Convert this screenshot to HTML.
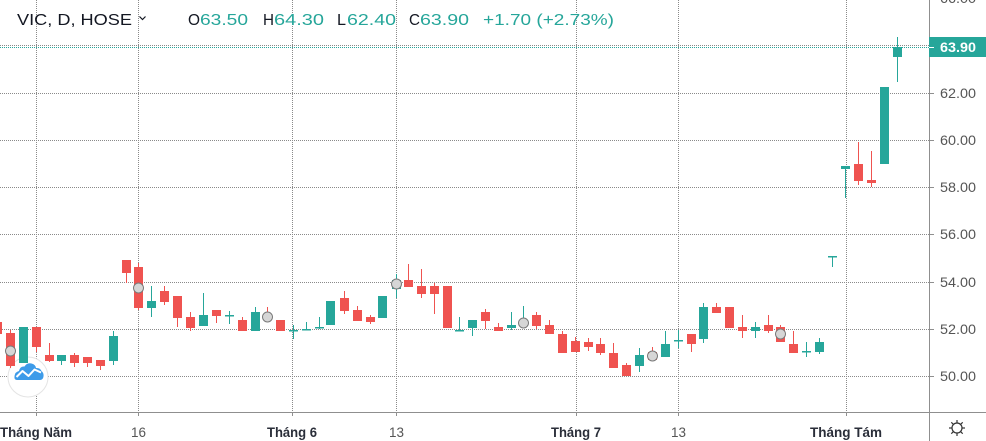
<!DOCTYPE html>
<html><head><meta charset="utf-8"><style>
html,body{margin:0;padding:0;background:#fff;width:986px;height:441px;overflow:hidden}
svg{display:block}
text{font-family:"Liberation Sans","DejaVu Sans",sans-serif}
</style></head><body>
<svg width="986" height="441" viewBox="0 0 986 441" xmlns="http://www.w3.org/2000/svg">
<rect width="986" height="441" fill="#fff"/>
<g stroke="#8a8a8a" stroke-width="1" stroke-dasharray="1 1" fill="none">
<line x1="0" y1="45.5" x2="929" y2="45.5"/>
<line x1="0" y1="93.5" x2="929" y2="93.5"/>
<line x1="0" y1="140.5" x2="929" y2="140.5"/>
<line x1="0" y1="187.5" x2="929" y2="187.5"/>
<line x1="0" y1="234.5" x2="929" y2="234.5"/>
<line x1="0" y1="282.5" x2="929" y2="282.5"/>
<line x1="0" y1="329.5" x2="929" y2="329.5"/>
<line x1="0" y1="376.5" x2="929" y2="376.5"/>
<line x1="36.5" y1="0" x2="36.5" y2="412"/>
<line x1="138.5" y1="0" x2="138.5" y2="412"/>
<line x1="292.5" y1="0" x2="292.5" y2="412"/>
<line x1="396.5" y1="0" x2="396.5" y2="412"/>
<line x1="576.5" y1="0" x2="576.5" y2="412"/>
<line x1="678.5" y1="0" x2="678.5" y2="412"/>
<line x1="846.5" y1="0" x2="846.5" y2="412"/>
</g>
<line x1="0" y1="47.5" x2="929" y2="47.5" stroke="#26a69a" stroke-width="1" stroke-dasharray="1 1"/>
<!-- logo circle -->
<circle cx="28" cy="377" r="20" fill="#fff" stroke="#e4e4e4" stroke-width="1"/>
<path d="M17 380 Q14 380 14.5 376 Q15 372 19 371 Q20 366 24.5 366.5 Q27 362.5 31.5 363.5 Q35.5 364.5 36 368 Q40 367.5 41.5 371 Q44 373 43.5 376.5 Q43 380 40 380 Z" fill="#3d9be9"/>
<polyline points="16.5,377 22.5,371 28.5,376 34.5,369.5 41,372.5" fill="none" stroke="#fff" stroke-width="2" stroke-linejoin="round"/>
<!-- candles -->
<g id="candles">
<rect x="-3" y="320" width="1" height="16" fill="#ef5350"/><rect x="-7" y="322" width="9" height="12" fill="#ef5350"/>
<rect x="10" y="330" width="1" height="38" fill="#ef5350"/><rect x="6" y="333" width="9" height="33" fill="#ef5350"/>
<rect x="23" y="327" width="1" height="36" fill="#26a69a"/><rect x="19" y="327" width="9" height="36" fill="#26a69a"/>
<rect x="36" y="327" width="1" height="25" fill="#ef5350"/><rect x="32" y="327" width="9" height="20" fill="#ef5350"/>
<rect x="49" y="343" width="1" height="19" fill="#ef5350"/><rect x="45" y="355" width="9" height="6" fill="#ef5350"/>
<rect x="61" y="355" width="1" height="10" fill="#26a69a"/><rect x="57" y="355" width="9" height="6" fill="#26a69a"/>
<rect x="74" y="353" width="1" height="14" fill="#ef5350"/><rect x="70" y="355" width="9" height="8" fill="#ef5350"/>
<rect x="87" y="357" width="1" height="10" fill="#ef5350"/><rect x="83" y="357" width="9" height="6" fill="#ef5350"/>
<rect x="100" y="360" width="1" height="10" fill="#ef5350"/><rect x="96" y="360" width="9" height="6" fill="#ef5350"/>
<rect x="113" y="331" width="1" height="34" fill="#26a69a"/><rect x="109" y="336" width="9" height="25" fill="#26a69a"/>
<rect x="126" y="260" width="1" height="23" fill="#ef5350"/><rect x="122" y="260" width="9" height="13" fill="#ef5350"/>
<rect x="138" y="263" width="1" height="47" fill="#ef5350"/><rect x="134" y="267" width="9" height="41" fill="#ef5350"/>
<rect x="151" y="286" width="1" height="31" fill="#26a69a"/><rect x="147" y="301" width="9" height="7" fill="#26a69a"/>
<rect x="164" y="286" width="1" height="19" fill="#ef5350"/><rect x="160" y="291" width="9" height="11" fill="#ef5350"/>
<rect x="177" y="296" width="1" height="31" fill="#ef5350"/><rect x="173" y="296" width="9" height="22" fill="#ef5350"/>
<rect x="190" y="312" width="1" height="19" fill="#ef5350"/><rect x="186" y="317" width="9" height="11" fill="#ef5350"/>
<rect x="203" y="293" width="1" height="33" fill="#26a69a"/><rect x="199" y="315" width="9" height="11" fill="#26a69a"/>
<rect x="216" y="310" width="1" height="13" fill="#ef5350"/><rect x="212" y="310" width="9" height="6" fill="#ef5350"/>
<rect x="229" y="311" width="1" height="13" fill="#26a69a"/><rect x="225" y="315" width="9" height="1.5" fill="#26a69a"/>
<rect x="242" y="317" width="1" height="14" fill="#ef5350"/><rect x="238" y="320" width="9" height="11" fill="#ef5350"/>
<rect x="255" y="307" width="1" height="24" fill="#26a69a"/><rect x="251" y="312" width="9" height="19" fill="#26a69a"/>
<rect x="267" y="307" width="1" height="13" fill="#ef5350"/><rect x="263" y="315" width="9" height="5" fill="#ef5350"/>
<rect x="280" y="320" width="1" height="11" fill="#ef5350"/><rect x="276" y="320" width="9" height="11" fill="#ef5350"/>
<rect x="293" y="325" width="1" height="14" fill="#26a69a"/><rect x="289" y="330" width="9" height="1.5" fill="#26a69a"/>
<rect x="306" y="322" width="1" height="8" fill="#26a69a"/><rect x="302" y="329" width="9" height="1.5" fill="#26a69a"/>
<rect x="319" y="317" width="1" height="12" fill="#26a69a"/><rect x="315" y="327" width="9" height="1.5" fill="#26a69a"/>
<rect x="330" y="301" width="1" height="24" fill="#26a69a"/><rect x="326" y="301" width="9" height="24" fill="#26a69a"/>
<rect x="344" y="291" width="1" height="23" fill="#ef5350"/><rect x="340" y="298" width="9" height="13" fill="#ef5350"/>
<rect x="357" y="306" width="1" height="15" fill="#ef5350"/><rect x="353" y="310" width="9" height="11" fill="#ef5350"/>
<rect x="370" y="315" width="1" height="9" fill="#ef5350"/><rect x="366" y="317" width="9" height="5" fill="#ef5350"/>
<rect x="382" y="296" width="1" height="22" fill="#26a69a"/><rect x="378" y="296" width="9" height="22" fill="#26a69a"/>
<rect x="396" y="274" width="1" height="24" fill="#26a69a"/><rect x="392" y="280" width="9" height="9" fill="#26a69a"/>
<rect x="408" y="264" width="1" height="23" fill="#ef5350"/><rect x="404" y="280" width="9" height="7" fill="#ef5350"/>
<rect x="421" y="269" width="1" height="29" fill="#ef5350"/><rect x="417" y="286" width="9" height="8" fill="#ef5350"/>
<rect x="434" y="283" width="1" height="31" fill="#ef5350"/><rect x="430" y="286" width="9" height="8" fill="#ef5350"/>
<rect x="447" y="286" width="1" height="42" fill="#ef5350"/><rect x="443" y="286" width="9" height="42" fill="#ef5350"/>
<rect x="459" y="317" width="1" height="14" fill="#26a69a"/><rect x="455" y="330" width="9" height="1.5" fill="#26a69a"/>
<rect x="472" y="320" width="1" height="16" fill="#26a69a"/><rect x="468" y="320" width="9" height="8" fill="#26a69a"/>
<rect x="485" y="309" width="1" height="20" fill="#ef5350"/><rect x="481" y="312" width="9" height="9" fill="#ef5350"/>
<rect x="498" y="323" width="1" height="8" fill="#ef5350"/><rect x="494" y="327" width="9" height="4" fill="#ef5350"/>
<rect x="511" y="312" width="1" height="18" fill="#26a69a"/><rect x="507" y="325" width="9" height="3" fill="#26a69a"/>
<rect x="523" y="306" width="1" height="19" fill="#26a69a"/><rect x="519" y="320" width="9" height="4" fill="#26a69a"/>
<rect x="536" y="312" width="1" height="17" fill="#ef5350"/><rect x="532" y="315" width="9" height="11" fill="#ef5350"/>
<rect x="549" y="320" width="1" height="14" fill="#ef5350"/><rect x="545" y="325" width="9" height="9" fill="#ef5350"/>
<rect x="562" y="331" width="1" height="22" fill="#ef5350"/><rect x="558" y="334" width="9" height="19" fill="#ef5350"/>
<rect x="575" y="337" width="1" height="15" fill="#ef5350"/><rect x="571" y="341" width="9" height="11" fill="#ef5350"/>
<rect x="588" y="338" width="1" height="13" fill="#ef5350"/><rect x="584" y="342" width="9" height="5" fill="#ef5350"/>
<rect x="600" y="338" width="1" height="17" fill="#ef5350"/><rect x="596" y="344" width="9" height="9" fill="#ef5350"/>
<rect x="613" y="343" width="1" height="25" fill="#ef5350"/><rect x="609" y="353" width="9" height="15" fill="#ef5350"/>
<rect x="626" y="363" width="1" height="13" fill="#ef5350"/><rect x="622" y="365" width="9" height="11" fill="#ef5350"/>
<rect x="639" y="348" width="1" height="24" fill="#26a69a"/><rect x="635" y="355" width="9" height="11" fill="#26a69a"/>
<rect x="652" y="347" width="1" height="13" fill="#ef5350"/><rect x="648" y="352" width="9" height="8" fill="#ef5350"/>
<rect x="665" y="331" width="1" height="26" fill="#26a69a"/><rect x="661" y="344" width="9" height="13" fill="#26a69a"/>
<rect x="678" y="330" width="1" height="18" fill="#26a69a"/><rect x="674" y="340" width="9" height="1.5" fill="#26a69a"/>
<rect x="691" y="334" width="1" height="18" fill="#ef5350"/><rect x="687" y="334" width="9" height="10" fill="#ef5350"/>
<rect x="703" y="303" width="1" height="40" fill="#26a69a"/><rect x="699" y="307" width="9" height="32" fill="#26a69a"/>
<rect x="716" y="303" width="1" height="10" fill="#ef5350"/><rect x="712" y="307" width="9" height="6" fill="#ef5350"/>
<rect x="729" y="307" width="1" height="21" fill="#ef5350"/><rect x="725" y="307" width="9" height="21" fill="#ef5350"/>
<rect x="742" y="315" width="1" height="23" fill="#ef5350"/><rect x="738" y="327" width="9" height="4" fill="#ef5350"/>
<rect x="755" y="322" width="1" height="16" fill="#26a69a"/><rect x="751" y="327" width="9" height="4" fill="#26a69a"/>
<rect x="768" y="315" width="1" height="18" fill="#ef5350"/><rect x="764" y="325" width="9" height="6" fill="#ef5350"/>
<rect x="780" y="325" width="1" height="17" fill="#ef5350"/><rect x="776" y="327" width="9" height="15" fill="#ef5350"/>
<rect x="793" y="331" width="1" height="22" fill="#ef5350"/><rect x="789" y="344" width="9" height="9" fill="#ef5350"/>
<rect x="806" y="342" width="1" height="15" fill="#26a69a"/><rect x="802" y="351" width="9" height="1.5" fill="#26a69a"/>
<rect x="819" y="338" width="1" height="16" fill="#26a69a"/><rect x="815" y="342" width="9" height="10" fill="#26a69a"/>
<rect x="832" y="256" width="1" height="11" fill="#26a69a"/><rect x="828" y="256" width="9" height="1.5" fill="#26a69a"/>
<rect x="845" y="166" width="1" height="32" fill="#26a69a"/><rect x="841" y="166" width="9" height="3" fill="#26a69a"/>
<rect x="858" y="142" width="1" height="43" fill="#ef5350"/><rect x="854" y="164" width="9" height="17" fill="#ef5350"/>
<rect x="871" y="151" width="1" height="36" fill="#ef5350"/><rect x="867" y="180" width="9" height="3" fill="#ef5350"/>
<rect x="884" y="87" width="1" height="77" fill="#26a69a"/><rect x="880" y="87" width="9" height="77" fill="#26a69a"/>
<rect x="897" y="37" width="1" height="45" fill="#26a69a"/><rect x="893" y="47" width="9" height="10" fill="#26a69a"/>
</g>
<g fill="#d6d6d6" stroke="#7a7a7a" stroke-width="1">
<circle cx="10.5" cy="351" r="5"/>
<circle cx="138.5" cy="288" r="5"/>
<circle cx="267.5" cy="317" r="5"/>
<circle cx="396.5" cy="284" r="5"/>
<circle cx="523.5" cy="323" r="5"/>
<circle cx="652.5" cy="356" r="5"/>
<circle cx="780.5" cy="334" r="5"/>
</g>
<!-- axes -->
<rect x="929" y="0" width="57" height="441" fill="#fff"/>
<line x1="929.5" y1="0" x2="929.5" y2="441" stroke="#8f8f8f" stroke-width="1"/>
<line x1="0" y1="412.5" x2="986" y2="412.5" stroke="#8f8f8f" stroke-width="1"/>
<g stroke="#8f8f8f" stroke-width="1">
<line x1="929" y1="93.5" x2="934" y2="93.5"/>
<line x1="929" y1="140.5" x2="934" y2="140.5"/>
<line x1="929" y1="187.5" x2="934" y2="187.5"/>
<line x1="929" y1="234.5" x2="934" y2="234.5"/>
<line x1="929" y1="282.5" x2="934" y2="282.5"/>
<line x1="929" y1="329.5" x2="934" y2="329.5"/>
<line x1="929" y1="376.5" x2="934" y2="376.5"/>
<line x1="36.5" y1="412" x2="36.5" y2="416"/>
<line x1="138.5" y1="412" x2="138.5" y2="416"/>
<line x1="292.5" y1="412" x2="292.5" y2="416"/>
<line x1="396.5" y1="412" x2="396.5" y2="416"/>
<line x1="576.5" y1="412" x2="576.5" y2="416"/>
<line x1="678.5" y1="412" x2="678.5" y2="416"/>
<line x1="846.5" y1="412" x2="846.5" y2="416"/>
</g>
<g font-size="14" fill="#555">
<text x="940" y="3" textLength="36" lengthAdjust="spacingAndGlyphs">66.00</text>
<text x="940" y="98" textLength="36" lengthAdjust="spacingAndGlyphs">62.00</text>
<text x="940" y="145" textLength="36" lengthAdjust="spacingAndGlyphs">60.00</text>
<text x="940" y="192" textLength="36" lengthAdjust="spacingAndGlyphs">58.00</text>
<text x="940" y="239" textLength="36" lengthAdjust="spacingAndGlyphs">56.00</text>
<text x="940" y="287" textLength="36" lengthAdjust="spacingAndGlyphs">54.00</text>
<text x="940" y="334" textLength="36" lengthAdjust="spacingAndGlyphs">52.00</text>
<text x="940" y="381" textLength="36" lengthAdjust="spacingAndGlyphs">50.00</text>
</g>
<rect x="929" y="37" width="57" height="20" fill="#26a69a"/>
<line x1="929" y1="47.5" x2="934" y2="47.5" stroke="#fff" stroke-width="1"/>
<text x="940" y="52" font-size="14" font-weight="bold" fill="#fff" textLength="36" lengthAdjust="spacingAndGlyphs">63.90</text>
<!-- time labels -->
<g font-size="14">
<text x="0" y="437" font-weight="bold" fill="#2a2e39" textLength="72" lengthAdjust="spacingAndGlyphs">Tháng Năm</text>
<text x="131" y="437" fill="#555" textLength="15" lengthAdjust="spacingAndGlyphs">16</text>
<text x="267" y="437" font-weight="bold" fill="#2a2e39" textLength="50" lengthAdjust="spacingAndGlyphs">Tháng 6</text>
<text x="389" y="437" fill="#555" textLength="15" lengthAdjust="spacingAndGlyphs">13</text>
<text x="551" y="437" font-weight="bold" fill="#2a2e39" textLength="50" lengthAdjust="spacingAndGlyphs">Tháng 7</text>
<text x="671" y="437" fill="#555" textLength="15" lengthAdjust="spacingAndGlyphs">13</text>
<text x="810" y="437" font-weight="bold" fill="#2a2e39" textLength="72" lengthAdjust="spacingAndGlyphs">Tháng Tám</text>
</g>
<!-- gear icon -->
<g stroke="#333" stroke-width="1.2" fill="none">
<circle cx="957" cy="428" r="5"/>
<line x1="957" y1="420" x2="957" y2="423"/>
<line x1="957" y1="433" x2="957" y2="436"/>
<line x1="949" y1="428" x2="952" y2="428"/>
<line x1="962" y1="428" x2="965" y2="428"/>
<line x1="951.3" y1="422.3" x2="953.5" y2="424.5"/>
<line x1="960.5" y1="431.5" x2="962.7" y2="433.7"/>
<line x1="962.7" y1="422.3" x2="960.5" y2="424.5"/>
<line x1="953.5" y1="431.5" x2="951.3" y2="433.7"/>
</g>
<!-- legend -->
<g font-size="16">
<text x="17" y="25" fill="#131722" textLength="115" lengthAdjust="spacingAndGlyphs">VIC, D, HOSE</text>
<text x="188" y="25" fill="#131722" textLength="12" lengthAdjust="spacingAndGlyphs">O</text>
<text x="200" y="25" fill="#26a69a" textLength="48" lengthAdjust="spacingAndGlyphs">63.50</text>
<text x="263" y="25" fill="#131722" textLength="11" lengthAdjust="spacingAndGlyphs">H</text>
<text x="274" y="25" fill="#26a69a" textLength="50" lengthAdjust="spacingAndGlyphs">64.30</text>
<text x="337" y="25" fill="#131722" textLength="9" lengthAdjust="spacingAndGlyphs">L</text>
<text x="347" y="25" fill="#26a69a" textLength="49" lengthAdjust="spacingAndGlyphs">62.40</text>
<text x="409" y="25" fill="#131722" textLength="11" lengthAdjust="spacingAndGlyphs">C</text>
<text x="420" y="25" fill="#26a69a" textLength="49" lengthAdjust="spacingAndGlyphs">63.90</text>
<text x="483" y="25" fill="#26a69a" textLength="131" lengthAdjust="spacingAndGlyphs">+1.70 (+2.73%)</text>
</g>
<polyline points="139.5,16.5 142.5,19.5 145.5,16.5" fill="none" stroke="#131722" stroke-width="1.2"/>
</svg>
</body></html>
